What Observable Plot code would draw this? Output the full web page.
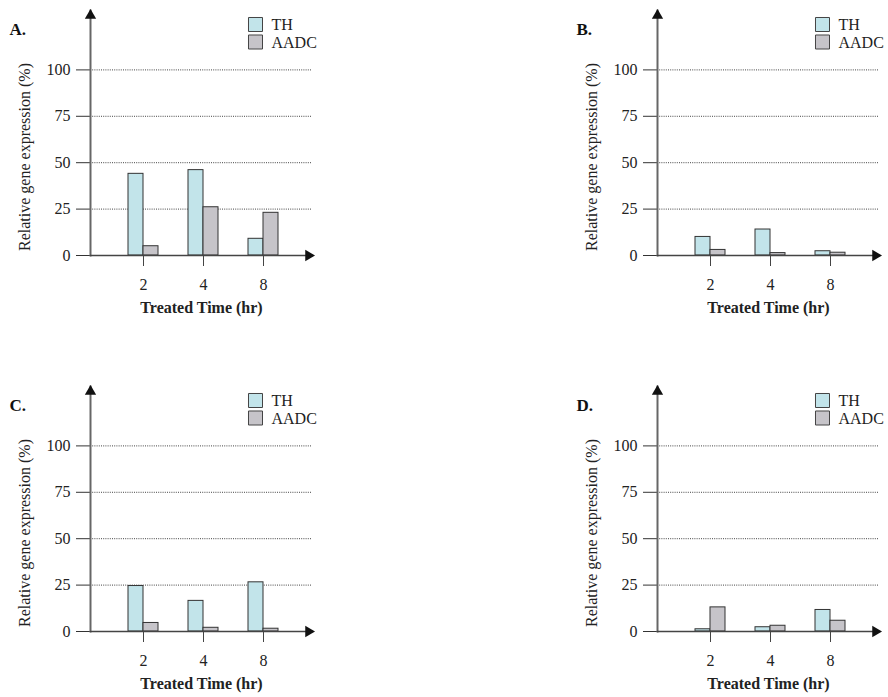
<!DOCTYPE html>
<html>
<head>
<meta charset="utf-8">
<script src="https://cdn.jsdelivr.net/npm/d3@7"></script>
<script src="https://cdn.jsdelivr.net/npm/@observablehq/plot@0.6"></script>
<style>
  html, body { margin: 0; padding: 0; background: #fff; }
  #wrap { position: relative; width: 888px; height: 697px; overflow: hidden; background: #fff; }
  .panel { position: absolute; width: 321px; height: 321px; }
</style>
</head>
<body>
<div id="wrap"></div>
<script>
const times = ["2", "4", "8"];
const genes = ["TH", "AADC"];
const geneColors = ["#c2e4ea", "#c6c4c9"];
const panelLabels = ["A.", "B.", "C.", "D."];
const yTicks = [0, 25, 50, 75, 100];
const gridTicks = [25, 50, 75, 100];
const xTitle = "Treated Time (hr)";
const yTitle = "Relative gene expression (%)";

const thA = [44, 46, 9];
const aadcA = [5, 26, 23];
const thB = [10, 14, 2.3];
const aadcB = [3, 1.3, 1.5];
const thC = [24.5, 16.5, 26.5];
const aadcC = [4.6, 2, 1.5];
const thD = [1.2, 2.3, 11.6];
const aadcD = [13, 3.1, 5.8];

const panelSeries = [[thA, aadcA], [thB, aadcB], [thC, aadcC], [thD, aadcD]];
const panelPos = [[0, 0], [567, 0], [0, 376], [567, 376]];

const wrap = document.getElementById("wrap");

panelSeries.forEach((series, i) => {
  const rows = (vals) => times.map((t, j) => ({time: t, value: vals[j]}));
  const chart = Plot.plot({
    width: 321,
    height: 321,
    marginLeft: 90,
    marginRight: 9,
    marginTop: 10,
    marginBottom: 66,
    style: {fontFamily: "'Liberation Serif', 'Times New Roman', serif", fontSize: "16px", color: "#222", background: "#fff"},
    x: {domain: times, range: [113, 293], paddingInner: 0.5, paddingOuter: 0.25},
    y: {domain: [0, 132]},
    marks: [
      Plot.ruleY(gridTicks, {stroke: "#444", strokeWidth: 1, strokeDasharray: "1,1.2"}),
      Plot.barY(rows(series[0]), {x: "time", y: "value", fill: geneColors[0], stroke: "#333", strokeWidth: 1, insetRight: 15}),
      Plot.barY(rows(series[1]), {x: "time", y: "value", fill: geneColors[1], stroke: "#333", strokeWidth: 1, insetLeft: 15}),
      Plot.axisY({ticks: yTicks, tickSize: 14, tickPadding: 6, label: null, stroke: "#333", fontSize: 16}),
      Plot.axisX({tickSize: 11, tickPadding: 12, label: null, stroke: "#444", fontSize: 16}),
      Plot.frame({anchor: "left", stroke: "#666", strokeWidth: 2}),
      Plot.ruleY([0], {stroke: "#444", strokeWidth: 1.5}),
      Plot.dot([0], {frameAnchor: "top-left", symbol: "triangle", r: 4.2, fill: "#111", stroke: "none", dy: 5}),
      Plot.dot([0], {frameAnchor: "bottom-right", symbol: "triangle", r: 4.2, fill: "#111", stroke: "none", rotate: 90, dx: -4}),
      Plot.text([yTitle], {frameAnchor: "left", rotate: -90, textAnchor: "middle", lineAnchor: "middle", dx: -66, dy: 24, fontSize: 16, fill: "#222"}),
      Plot.text([xTitle], {frameAnchor: "bottom", textAnchor: "middle", lineAnchor: "middle", dy: 52, fontSize: 16, fontWeight: "bold", fill: "#222"}),
      Plot.text([panelLabels[i]], {frameAnchor: "top-left", dx: -81, dy: 19, textAnchor: "start", lineAnchor: "middle", fontSize: 17, fontWeight: "bold", fill: "#111"}),
      ...genes.map((g, k) => Plot.dot([g], {frameAnchor: "top-left", dx: 165, dy: 14 + k * 17.5, symbol: "square", r: 7.9, fill: geneColors[k], stroke: "#444", strokeWidth: 1})),
      ...genes.map((g, k) => Plot.text([g], {frameAnchor: "top-left", dx: 181, dy: 14 + k * 18.5, textAnchor: "start", lineAnchor: "middle", fontSize: 16, fill: "#222"}))
    ]
  });
  const div = document.createElement("div");
  div.className = "panel";
  div.style.left = panelPos[i][0] + "px";
  div.style.top = panelPos[i][1] + "px";
  div.appendChild(chart);
  wrap.appendChild(div);
});
</script>
</body>
</html>
